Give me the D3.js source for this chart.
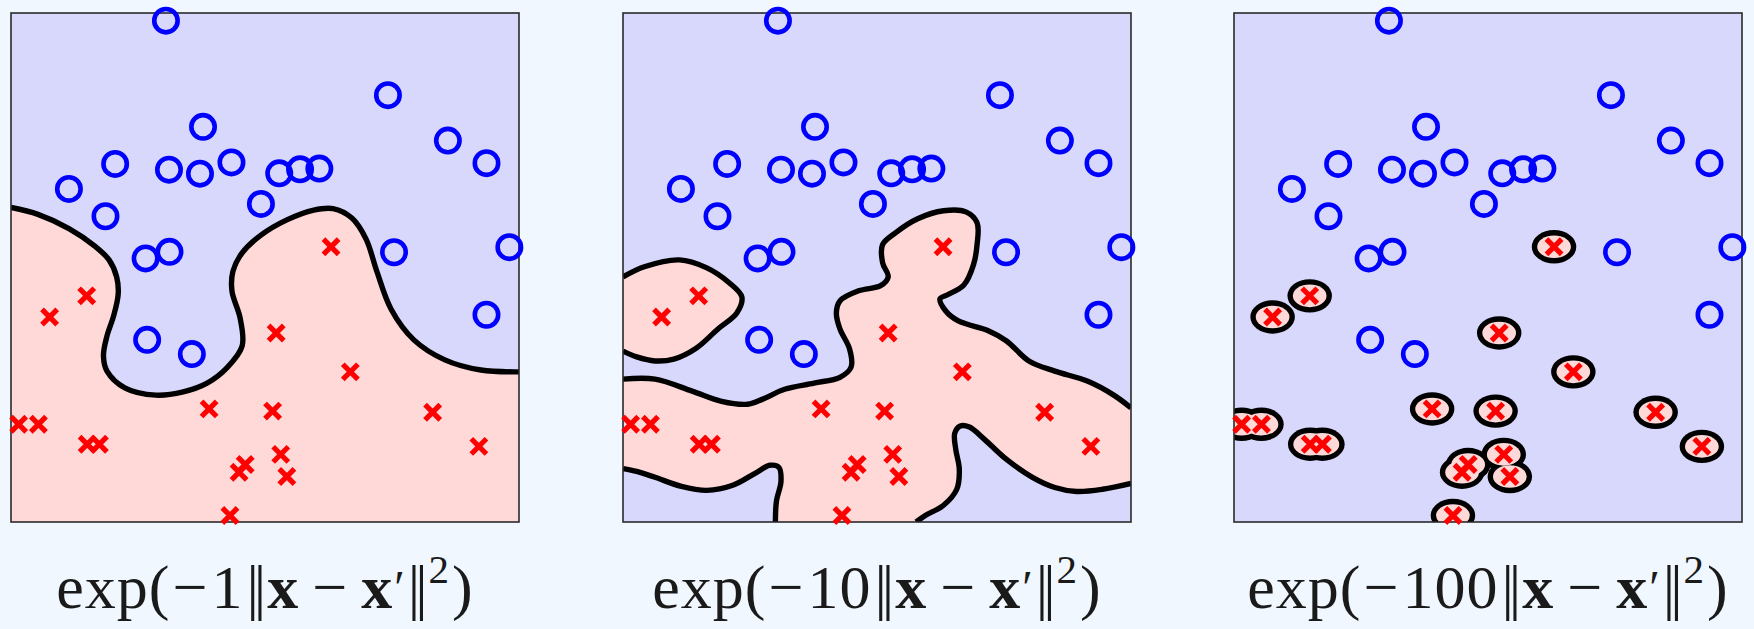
<!DOCTYPE html>
<html>
<head>
<meta charset="utf-8">
<script src="https://cdn.jsdelivr.net/npm/d3@7"></script>
<style>
  html, body { margin: 0; padding: 0; background: #f0f7fe; }
  svg { display: block; }
</style>
</head>
<body>
<svg id="chart" width="1754" height="629"></svg>
<script>
// Class -1 samples (blue circles), [feature 1, feature 2]
const bluePoints = [
  [0.305, 1.379], [0.742, 1.174], [0.378, 1.087], [0.860, 1.049], [0.936, 0.987],
  [0.205, 0.985], [0.311, 0.969], [0.372, 0.958], [0.434, 0.989], [0.528, 0.959],
  [0.569, 0.970], [0.607, 0.972], [0.114, 0.916], [0.492, 0.875], [0.186, 0.841],
  [0.981, 0.756], [0.754, 0.742], [0.265, 0.725], [0.312, 0.743], [0.936, 0.570],
  [0.268, 0.501], [0.356, 0.462]
];

// Class +1 samples (red crosses)
const redPoints = [
  [0.630, 0.757], [0.149, 0.622], [0.076, 0.564], [0.522, 0.520], [0.668, 0.413],
  [0.390, 0.311], [0.515, 0.305], [0.830, 0.302], [0.015, 0.269], [0.054, 0.269],
  [0.150, 0.214], [0.174, 0.214], [0.921, 0.208], [0.531, 0.186], [0.461, 0.158],
  [0.449, 0.137], [0.543, 0.125], [0.431, 0.018]
];

// RBF kernel widths, one per panel
const gammas = [1, 10, 100];

// Decision boundary, gamma = 1 (left edge to right edge)
const boundaryGamma1 = [
  [0, 0.865], [0.053, 0.846], [0.114, 0.807], [0.165, 0.759], [0.193, 0.721],
  [0.208, 0.674], [0.211, 0.627], [0.202, 0.567], [0.189, 0.512], [0.182, 0.457],
  [0.189, 0.415], [0.224, 0.369], [0.285, 0.349], [0.339, 0.358], [0.386, 0.382],
  [0.425, 0.424], [0.455, 0.484], [0.451, 0.561], [0.435, 0.635], [0.437, 0.690],
  [0.455, 0.740], [0.492, 0.789], [0.543, 0.831], [0.596, 0.858], [0.634, 0.862],
  [0.671, 0.836], [0.699, 0.778], [0.720, 0.690], [0.748, 0.586], [0.793, 0.501],
  [0.854, 0.446], [0.925, 0.418], [1.0, 0.413]
];

// Decision boundaries, gamma = 10
const islandGamma10 = [
  [0, 0.674], [0.042, 0.702], [0.111, 0.721], [0.165, 0.699], [0.209, 0.658],
  [0.234, 0.619], [0.224, 0.575], [0.187, 0.531], [0.144, 0.478], [0.100, 0.448],
  [0.063, 0.443], [0.027, 0.454], [0, 0.470]
];
const upperGamma10 = [
  [0, 0.393], [0.063, 0.393], [0.136, 0.360], [0.194, 0.332], [0.245, 0.324],
  [0.275, 0.338], [0.318, 0.365], [0.376, 0.382], [0.427, 0.398], [0.449, 0.426],
  [0.446, 0.476], [0.427, 0.531], [0.420, 0.575], [0.427, 0.608], [0.464, 0.636],
  [0.507, 0.650], [0.522, 0.674], [0.511, 0.713], [0.511, 0.763], [0.537, 0.796],
  [0.580, 0.834], [0.631, 0.856], [0.675, 0.853], [0.697, 0.823], [0.697, 0.763],
  [0.690, 0.708], [0.671, 0.652], [0.639, 0.625], [0.624, 0.614], [0.635, 0.581],
  [0.660, 0.553], [0.719, 0.526], [0.755, 0.498], [0.799, 0.443], [0.850, 0.415],
  [0.915, 0.387], [0.966, 0.349], [1.0, 0.314]
];
const lowerRightGamma10 = [
  [1.0, 0.106], [0.944, 0.090], [0.893, 0.084], [0.850, 0.095], [0.806, 0.123],
  [0.755, 0.172], [0.711, 0.228], [0.682, 0.261], [0.664, 0.264], [0.653, 0.244],
  [0.655, 0.200], [0.662, 0.145], [0.657, 0.090], [0.631, 0.046], [0.595, 0.018],
  [0.577, 0]
];
const lowerLeftGamma10 = [
  [0.300, 0], [0.302, 0.057], [0.311, 0.112], [0.307, 0.150], [0.289, 0.156],
  [0.260, 0.134], [0.216, 0.101], [0.165, 0.087], [0.115, 0.098], [0.063, 0.123],
  [0.027, 0.139], [0, 0.147]
];

// Radius of the positive region around each positive sample, gamma = 100
const contourRadiusGamma100 = 0.0385;

const W = 508, H = 509;
const panelX = [11, 623, 1234];
const panelY = 13;
const colBlueRegion = "#d8d8fc";
const colRedRegion = "#ffd8d8";
const lineW = 5.4;

const x = d3.scaleLinear().domain([0, 1]).range([0, W]);
const y = d3.scaleLinear().domain([0, 1.4]).range([H, 0]);

const line = d3.line()
  .x(d => x(d[0]))
  .y(d => y(d[1]))
  .curve(d3.curveCatmullRom.alpha(0.5));

const svg = d3.select("#chart");
const defs = svg.append("defs");

gammas.forEach((gamma, i) => {
  defs.append("clipPath").attr("id", "clip" + i)
    .append("rect").attr("x", 0).attr("y", 0).attr("width", W).attr("height", H);

  const g = svg.append("g").attr("transform", `translate(${panelX[i]},${panelY})`);
  const plot = g.append("g").attr("clip-path", `url(#clip${i})`);

  plot.append("rect")
    .attr("width", W).attr("height", H)
    .attr("fill", colBlueRegion);

  if (i === 0) {
    const fillPath = line(boundaryGamma1) +
      `L${x(1)},${y(0)}L${x(0)},${y(0)}Z`;
    plot.append("path").attr("d", fillPath).attr("fill", colRedRegion);
    plot.append("path").attr("d", line(boundaryGamma1))
      .attr("fill", "none").attr("stroke", "#000").attr("stroke-width", lineW);
  } else if (i === 1) {
    plot.append("path").attr("d", line(islandGamma10) + "Z").attr("fill", colRedRegion);
    const mainPath = line(upperGamma10) +
      line(lowerRightGamma10).replace(/^M/, "L") +
      line(lowerLeftGamma10).replace(/^M/, "L") + "Z";
    plot.append("path").attr("d", mainPath).attr("fill", colRedRegion);
    [islandGamma10, upperGamma10, lowerRightGamma10, lowerLeftGamma10].forEach(b => {
      plot.append("path").attr("d", line(b))
        .attr("fill", "none").attr("stroke", "#000").attr("stroke-width", lineW)
        .attr("stroke-linejoin", "round");
    });
  } else {
    const rx = x(contourRadiusGamma100) - x(0);
    const ry = y(0) - y(contourRadiusGamma100);
    // outline: union of outer ellipses, then union of inner ellipses on top
    plot.append("g").selectAll("ellipse").data(redPoints).join("ellipse")
      .attr("cx", d => x(d[0])).attr("cy", d => y(d[1]))
      .attr("rx", rx + lineW / 2).attr("ry", ry + lineW / 2)
      .attr("fill", "#000");
    plot.append("g").selectAll("ellipse").data(redPoints).join("ellipse")
      .attr("cx", d => x(d[0])).attr("cy", d => y(d[1]))
      .attr("rx", rx - lineW / 2).attr("ry", ry - lineW / 2)
      .attr("fill", colRedRegion);
  }

  // axes frame
  g.append("rect")
    .attr("width", W).attr("height", H)
    .attr("fill", "none").attr("stroke", "#2a2a2a").attr("stroke-width", 1.6);

  // samples
  g.append("g").selectAll("circle").data(bluePoints).join("circle")
    .attr("cx", d => x(d[0])).attr("cy", d => y(d[1]))
    .attr("r", 11.7)
    .attr("fill", "none").attr("stroke", "#0000ff").attr("stroke-width", 4.6);

  const a = 7.6;
  g.append("g").selectAll("path").data(redPoints).join("path")
    .attr("transform", d => `translate(${x(d[0])},${y(d[1])})`)
    .attr("d", `M${-a},${-a}L${a},${a}M${-a},${a}L${a},${-a}`)
    .attr("fill", "none").attr("stroke", "#ff0000").attr("stroke-width", 5.2);

  // kernel caption
  const cap = g.append("text")
    .attr("x", W / 2).attr("y", 595)
    .attr("text-anchor", "middle")
    .style("font-family", '"Liberation Serif","DejaVu Serif",serif')
    .style("font-size", "62px")
    .style("letter-spacing", "1px")
    .attr("fill", "#1a1a1a");
  cap.append("tspan").text("exp(");
  cap.append("tspan").attr("dx", 2).text("\u2212");
  cap.append("tspan").attr("dx", 3).text(String(gamma));
  cap.append("tspan").attr("dx", 3).style("letter-spacing", "-5px").text("||");
  cap.append("tspan").attr("dx", 6).style("font-weight", "bold").text("x");
  cap.append("tspan").attr("dx", 13).text("\u2212");
  cap.append("tspan").attr("dx", 13).style("font-weight", "bold").text("x");
  cap.append("tspan").attr("dx", 1).attr("dy", -4).style("font-size", "48px").text("\u2032");
  cap.append("tspan").attr("dx", 2).attr("dy", 4).style("letter-spacing", "-5px").text("||");
  cap.append("tspan").attr("dx", 6).attr("dy", -25).style("font-size", "41px").text("2");
  cap.append("tspan").attr("dx", 2).attr("dy", 25).text(")");
});
</script>
</body>
</html>
